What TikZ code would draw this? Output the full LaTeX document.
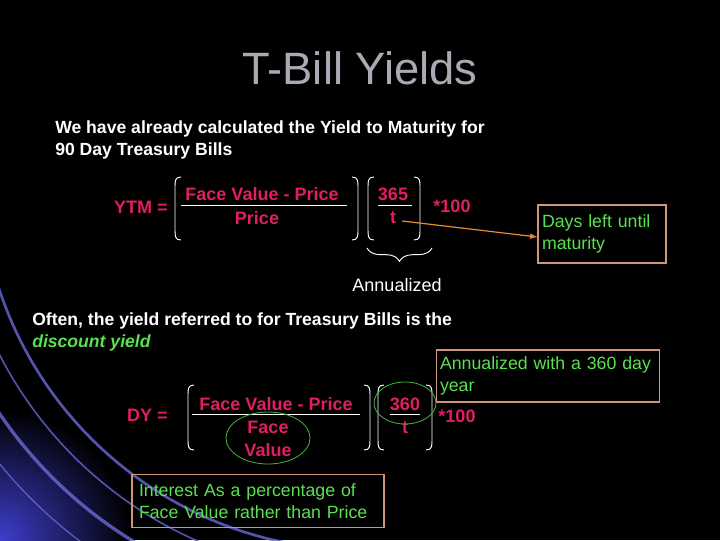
\documentclass[tikz,border=0pt]{standalone}
\usepackage{fontspec}
\setmainfont{Liberation Sans}
\usetikzlibrary{decorations.pathreplacing}
\definecolor{pk}{RGB}{225,30,95}
\definecolor{gr}{RGB}{90,225,80}
\definecolor{bx}{RGB}{205,150,120}
\definecolor{ti}{RGB}{170,170,180}
\definecolor{bl}{RGB}{40,40,200}
\tikzset{
 wt/.style={text=white,font=\bfseries\fontsize{13.2}{16}\selectfont,inner sep=0pt},
 pt/.style={text=pk,font=\bfseries\fontsize{13.5}{17}\selectfont,inner sep=0pt},
 gt/.style={text=gr,font=\fontsize{13.3}{16.5}\selectfont},
 box/.style={draw=bx,line width=0.8pt},
 par/.style={draw=white,line width=0.7pt},
 frac/.style={draw=white,line width=0.7pt}
}
\newcommand{\lpar}[3]{\draw[par] (#1+6,#2) .. controls (#1,#2) and (#1,#2+4) .. (#1,#2+10) -- (#1,#3-10) .. controls (#1,#3-4) and (#1,#3) .. (#1+6,#3);}
\newcommand{\rpar}[3]{\draw[par] (#1-6,#2) .. controls (#1,#2) and (#1,#2+4) .. (#1,#2+10) -- (#1,#3-10) .. controls (#1,#3-4) and (#1,#3) .. (#1-6,#3);}
\begin{document}
\begin{tikzpicture}[x=0.75pt,y=-0.75pt]
\fill[black] (0,0) rectangle (720,540);
\useasboundingbox (0,0) rectangle (720,540);
\begin{scope}
\clip (0,0) rectangle (720,540);
\shade[inner color=bl!90,outer color=black] (0,540) circle (130);
\foreach \r/\w in {380/2,405/1.2,435/2.5,465/1}
  \draw[bl!70,line width=\w pt,opacity=0.8] (360,170) ++(100:\r) arc (100:165:\r);
\end{scope}
\node[text=ti,font=\fontsize{34}{36}\selectfont] (title) at (360,68) {T-Bill Yields};
\node[wt,anchor=west] (l1) at (55,129) {We have already calculated the Yield to Maturity for};
\node[wt,anchor=west] (l2) at (55,151) {90 Day Treasury Bills};
\node[pt,anchor=east] (ytm) at (168,207) {YTM =};
\node[pt] (fvp) at (262,194) {Face Value - Price};
\node[pt] (pr) at (257,218) {Price};
\draw[frac] (181,205) -- (347,205);
\lpar{175}{177}{240}\rpar{358}{177}{240}
\lpar{368}{177}{240}\rpar{420}{177}{240}
\node[pt] (n365) at (393,194) {365};
\node[pt] (t1) at (393,218) {t};
\draw[frac] (378,205) -- (412,205);
\node[pt] (h1) at (452,206) {*100};
\draw[white,line width=0.7pt,decorate,decoration={brace,mirror,amplitude=10pt}] (367,248) -- (432,248);
\node[text=white,font=\fontsize{13.5}{16}\selectfont,inner sep=0pt] (ann) at (397,285) {Annualized};
\node[box,gt,inner sep=0pt,minimum width=128*0.75pt,minimum height=58*0.75pt,text width=120*0.75pt,align=left] (days) at (602,234) {Days left until maturity};
\draw[-latex,draw={rgb,255:red,230;green,140;blue,40},line width=0.9pt] (t1.east)++(6,3) coordinate (ts) -- (days.west|-0,237);
\node[wt,anchor=west] (l3) at (32,321) {Often, the yield referred to for Treasury Bills is the};
\node[text=gr,font=\bfseries\itshape\fontsize{13.2}{16}\selectfont,inner sep=0pt,anchor=west] (dy) at (32,343) {discount yield};
\node[box,gt,minimum width=223*0.75pt,minimum height=52*0.75pt,text width=216*0.75pt,align=left,inner sep=0pt] (a360) at (548,376) {Annualized with a 360 day\\year};
\node[pt,anchor=east] (dyeq) at (168,415) {DY =};
\node[pt] (fvp2) at (276,404) {Face Value - Price};
\node[pt,align=center] (fv) at (268,439) {Face\\Value};
\draw[frac] (192,414) -- (360,414);
\lpar{188}{385}{450}\rpar{370}{385}{450}
\lpar{378}{385}{450}\rpar{432}{385}{450}
\node[pt] (n360) at (405,404) {360};
\node[pt] (t2) at (405,428) {t};
\draw[frac] (390,414) -- (420,414);
\node[pt] (h2) at (457,416) {*100};
\draw[gr!80!black,line width=0.6pt] (268,438) ellipse (42 and 26);
\draw[gr!80!black,line width=0.6pt] (405,403) ellipse (31 and 21);
\node[box,gt,minimum width=252*0.75pt,minimum height=53*0.75pt,text width=238*0.75pt,align=left,inner sep=0pt] (int) at (258,501) {Interest As a percentage of\\Face Value rather than Price};
\end{tikzpicture}
\end{document}
